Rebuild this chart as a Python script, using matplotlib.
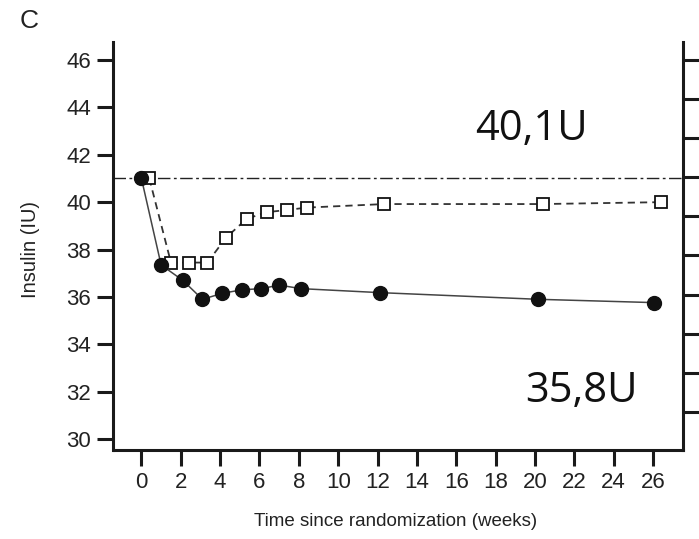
import numpy as np
import matplotlib
matplotlib.use("Agg")
import matplotlib.pyplot as plt

plt.rcParams["font.family"] = ["Liberation Sans", "DejaVu Sans"]

# ── Data ──────────────────────────────────────────────────────────────────
weeks_filled = [0, 1, 2.1, 3.1, 4.1, 5.1, 6.1, 7.0, 8.1, 12.15, 20.15, 26.05]
insulin_filled = [41.0, 37.35, 36.7, 35.9, 36.15, 36.3, 36.35, 36.5, 36.35, 36.18, 35.9, 35.76]

weeks_open = [0.4, 1.5, 2.4, 3.35, 4.3, 5.35, 6.4, 7.4, 8.4, 12.35, 20.4, 26.4]
insulin_open = [41.0, 37.45, 37.45, 37.45, 38.5, 39.3, 39.58, 39.67, 39.77, 39.92, 39.92, 40.0]

baseline = 41.0
x_ticks = list(range(0, 27, 2))
y_ticks = list(range(30, 47, 2))
label_end_open = "40,1U"
label_end_filled = "35,8U"

W, H = 699, 539
fig = plt.figure(figsize=(W / 100, H / 100), dpi=100)
ax = fig.add_axes([113.5 / W, (H - 449.5) / H, 569 / W, 407.5 / H])

ax.set_xlim(-1.42, 27.5)
ax.set_ylim(29.56, 46.76)

ax.axhline(baseline, color="#222222", lw=1.0, ls=(0, (9, 2.5, 2, 2.5)), zorder=1)

ax.plot(weeks_open, insulin_open, color="#333333", lw=1.3, ls=(0, (4, 2.8)),
        marker="s", ms=9, mfc="white", mec="#111111", mew=1.3, zorder=3)
ax.plot(weeks_filled, insulin_filled, color="#444444", lw=1.1,
        marker="o", ms=10, mfc="#111111", mec="#111111", zorder=4)

ax.set_xticks(x_ticks)
ax.set_yticks(y_ticks)
for s in ["top", "right"]:
    ax.spines[s].set_visible(False)
for s in ["left", "bottom"]:
    ax.spines[s].set_linewidth(2.2)
    ax.spines[s].set_color("#1a1a1a")
ax.tick_params(axis="both", direction="out", length=11.5, width=2.2,
               color="#1a1a1a", labelsize=16, labelcolor="#222222", pad=4.5)

ax.set_xlabel("Time since randomization (weeks)", fontsize=13.5, color="#222222")
ax.set_ylabel("Insulin (IU)", fontsize=14.5, color="#222222")
ax.xaxis.set_label_coords(0.495, -0.155)
ax.yaxis.set_label_coords(-0.13, 0.49)

# right-hand axis from the overlaid panel: ticks only
ax2 = ax.twinx()
ax2.set_ylim(ax.get_ylim())
ax2.set_yticks(46 - np.arange(10) * 1.65)
ax2.set_yticklabels([])
for s in ["top", "left", "bottom"]:
    ax2.spines[s].set_visible(False)
ax2.spines["right"].set_linewidth(2.2)
ax2.spines["right"].set_color("#1a1a1a")
ax2.tick_params(axis="y", direction="out", length=16, width=2.2, color="#1a1a1a")

fig.text(29 / W, 1 - 21 / H, "C", fontsize=19, ha="center", va="center", color="#222222")
fig.text(475 / W, 1 - 140 / H, label_end_open, fontsize=30, family="Open Sans",
         ha="left", va="baseline", color="#111111")
fig.text(525 / W, 1 - 402 / H, label_end_filled, fontsize=30, family="Open Sans",
         ha="left", va="baseline", color="#111111")

fig.savefig("out.png", dpi=100)
